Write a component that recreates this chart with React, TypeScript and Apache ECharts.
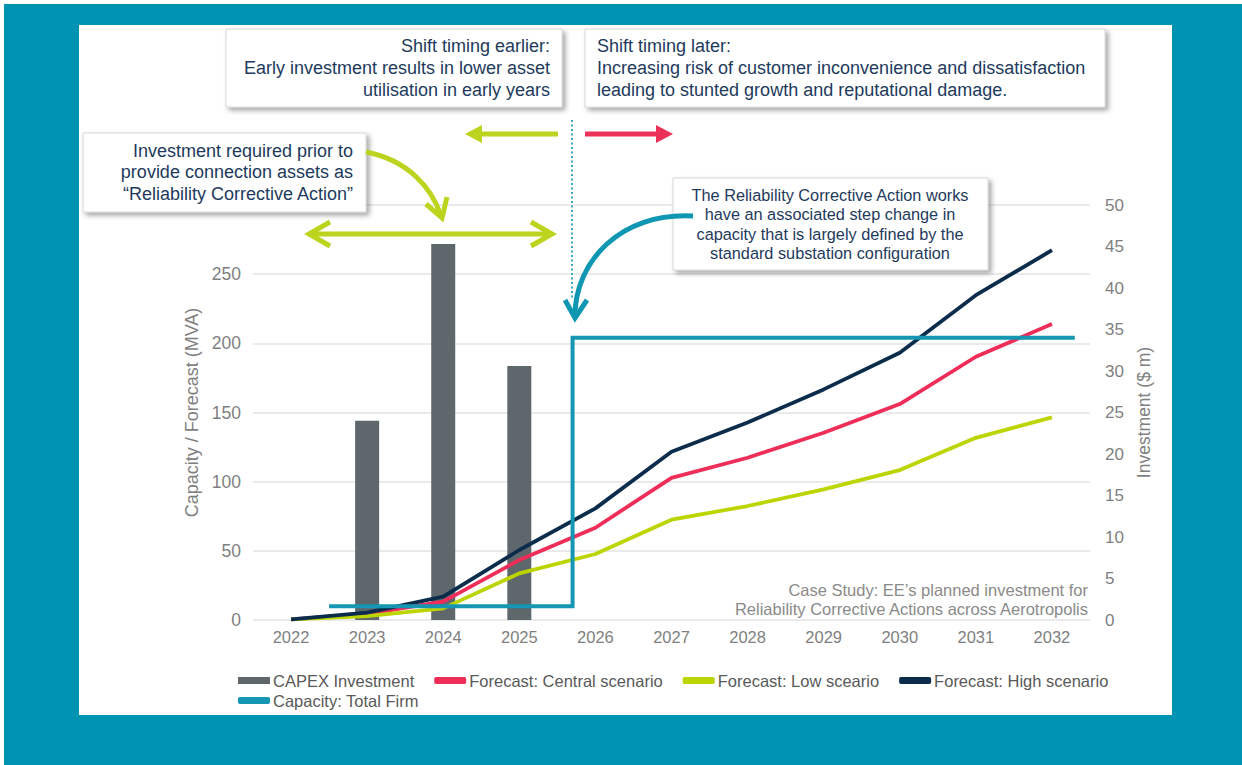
import React, { useEffect, useRef } from "react";
import * as echarts from "echarts";

const categories = ["2022", "2023", "2024", "2025", "2026", "2027", "2028", "2029", "2030", "2031", "2032"];
const capexInvestment = [null, 24.0, 45.3, 30.6, null, null, null, null, null, null, null];
const centralScenario = [0.5, 4.5, 13.3, 43.4, 66.7, 102.8, 117.3, 135.4, 156.1, 190.3, 213.9];
const lowScenario = [0.5, 2.8, 8.4, 33.7, 47.7, 72.5, 82.4, 94.4, 108.4, 131.7, 146.5];
const highScenario = [0.5, 5.3, 16.9, 50.6, 80.7, 121.6, 142.8, 166.7, 193.2, 234.8, 267.3];
// capacity step line, x in category-index units (2022 = 0)
const capacityX = [0.5, 3.7, 3.7, 10.3];
const capacityY = [10, 10, 204, 204];

const leftTicks = { min: 0, max: 300, interval: 50 };
const rightTicks = { min: 0, max: 50, interval: 5 };

const FONT = 'Arial, "Liberation Sans", Helvetica, sans-serif';
const TEAL_BG = "#0093B2";
const NAVY_TEXT = "#1E3A5C";
const GREEN = "#BDD41E";
const RED = "#EC3058";
const TEAL = "#0F96B2";

const COLORS = {
  capex: "#5E676C",
  central: "#EE2D59",
  low: "#BCD400",
  high: "#0C2C4C",
  capacity: "#1596B3",
};

function box(x: number, y: number, w: number, h: number) {
  return {
    type: "rect",
    z: 50,
    shape: { x, y, width: w, height: h },
    style: {
      fill: "#ffffff",
      stroke: "#d6d6d6",
      lineWidth: 1,
      shadowBlur: 5,
      shadowOffsetX: 3,
      shadowOffsetY: 3,
      shadowColor: "rgba(0,0,0,0.35)",
    },
  };
}

function label(text: string, x: number, y: number, align: string, lh: number, size: number) {
  return {
    type: "text",
    z: 51,
    style: {
      text,
      x,
      y,
      textAlign: align,
      textVerticalAlign: "middle",
      fill: NAVY_TEXT,
      font: `${size}px ${FONT}`,
      lineHeight: lh,
    },
  };
}

function line(x1: number, y1: number, x2: number, y2: number, color: string, w: number, extra: any = {}) {
  return {
    type: "line",
    z: 52,
    shape: { x1, y1, x2, y2 },
    style: { stroke: color, lineWidth: w, lineCap: "butt", ...extra },
  };
}

function poly(points: number[][], color: string, w: number) {
  return {
    type: "polyline",
    z: 52,
    shape: { points },
    style: { stroke: color, lineWidth: w, fill: null, lineJoin: "miter", lineCap: "butt" },
  };
}

function tri(points: number[][], color: string) {
  return {
    type: "polygon",
    z: 52,
    shape: { points },
    style: { fill: color },
  };
}

export default function App() {
  const ref = useRef<HTMLDivElement>(null);

  useEffect(() => {
    if (!ref.current) return;
    const chart = echarts.init(ref.current, null, { renderer: "svg" });

    const lineSeries = (name: string, data: number[], color: string) => ({
      name,
      type: "line",
      xAxisIndex: 0,
      yAxisIndex: 0,
      data,
      symbol: "none",
      lineStyle: { color, width: 3.8 },
      itemStyle: { color },
      z: 3,
    });

    const legendText = { color: "#595959", fontSize: 16.5, fontFamily: FONT, padding: [0, 0, 0, -2] };

    const option: any = {
      animation: false,
      backgroundColor: "#ffffff",
      textStyle: { fontFamily: FONT },
      grid: { left: 253, right: 152, top: 205, bottom: 145, containLabel: false },
      xAxis: [
        {
          type: "category",
          data: categories,
          boundaryGap: true,
          axisLine: { show: false },
          axisTick: { show: false },
          axisLabel: { color: "#7f7f7f", fontSize: 16.5, margin: 8, fontFamily: FONT },
          splitLine: { show: false },
        },
        {
          type: "value",
          min: -0.5,
          max: 10.5,
          show: false,
          splitLine: { show: false },
        },
      ],
      yAxis: [
        {
          type: "value",
          ...leftTicks,
          name: "Capacity / Forecast (MVA)",
          nameLocation: "middle",
          nameGap: 46,
          nameTextStyle: { color: "#7f7f7f", fontSize: 18, fontFamily: FONT },
          axisLine: { show: false },
          axisTick: { show: false },
          axisLabel: {
            color: "#7f7f7f",
            fontSize: 17.5,
            margin: 12,
            fontFamily: FONT,
            formatter: (v: number) => (v === 300 ? "" : String(v)),
          },
          splitLine: { show: true, lineStyle: { color: "#e3e3e3", width: 1.5 } },
        },
        {
          type: "value",
          ...rightTicks,
          position: "right",
          name: "Investment ($ m)",
          nameLocation: "middle",
          nameGap: 41,
          nameTextStyle: { color: "#7f7f7f", fontSize: 17.5, fontFamily: FONT },
          axisLine: { show: false },
          axisTick: { show: false },
          axisLabel: { color: "#7f7f7f", fontSize: 17, margin: 15, fontFamily: FONT },
          splitLine: { show: false },
        },
      ],
      legend: [
        {
          data: [
            { name: "CAPEX Investment", icon: "rect" },
            { name: "Forecast: Central scenario", icon: "roundRect" },
            { name: "Forecast: Low sceario", icon: "roundRect" },
            { name: "Forecast: High scenario", icon: "roundRect" },
          ],
          left: 233,
          top: 667,
          itemWidth: 32,
          itemHeight: 7,
          itemGap: 20,
          textStyle: legendText,
          selectedMode: false,
        },
        {
          data: [{ name: "Capacity: Total Firm", icon: "roundRect" }],
          left: 233,
          top: 687,
          itemWidth: 32,
          itemHeight: 7,
          textStyle: legendText,
          selectedMode: false,
        },
      ],
      series: [
        {
          name: "CAPEX Investment",
          type: "bar",
          xAxisIndex: 0,
          yAxisIndex: 1,
          data: capexInvestment,
          barWidth: 24,
          itemStyle: { color: COLORS.capex },
          z: 2,
        },
        lineSeries("Forecast: Central scenario", centralScenario, COLORS.central),
        lineSeries("Forecast: Low sceario", lowScenario, COLORS.low),
        lineSeries("Forecast: High scenario", highScenario, COLORS.high),
        {
          name: "Capacity: Total Firm",
          type: "line",
          xAxisIndex: 1,
          yAxisIndex: 0,
          data: capacityX.map((x, i) => [x, capacityY[i]]),
          symbol: "none",
          lineStyle: { color: COLORS.capacity, width: 4, join: "miter" },
          itemStyle: { color: COLORS.capacity },
          z: 4,
        },
      ],
      graphic: {
        elements: [
          { type: "rect", z: -20, shape: { x: 4, y: 4, width: 1238, height: 761 }, style: { fill: TEAL_BG } },
          { type: "rect", z: -19, shape: { x: 79, y: 25, width: 1093, height: 690 }, style: { fill: "#ffffff" } },
          // case study note
          {
            type: "text",
            z: 10,
            style: {
              text: "Case Study: EE\u2019s planned investment for\nReliability Corrective Actions across Aerotropolis",
              x: 1088,
              y: 599,
              textAlign: "right",
              textVerticalAlign: "middle",
              fill: "#8a8a8a",
              font: `16.5px ${FONT}`,
              lineHeight: 19,
            },
          },
          // boxes
          box(226, 29, 336, 78),
          label("Shift timing earlier:\nEarly investment results in lower asset\nutilisation in early years", 550, 68, "right", 22, 18),
          box(585, 29, 520, 78),
          label(
            "Shift timing later:\nIncreasing risk of customer inconvenience and dissatisfaction\nleading to stunted growth and reputational damage.",
            597,
            68,
            "left",
            22,
            18
          ),
          box(83, 133, 283, 79),
          label("Investment required prior to\nprovide connection assets as\n\u201cReliability Corrective Action\u201d", 353, 172, "right", 21.5, 18),
          box(673, 178, 315, 92),
          label(
            "The Reliability Corrective Action works\nhave an associated step change in\ncapacity that is largely defined by the\nstandard substation configuration",
            830,
            224,
            "center",
            19.5,
            16.3
          ),
          // dotted vertical timing line
          line(572, 120, 572, 300, "#3CA9CA", 2, { lineDash: [2, 2.5] }),
          // left green arrow
          line(558, 134, 478, 134, GREEN, 5),
          tri([[465, 134], [482, 125], [482, 143]], GREEN),
          // red arrow
          line(585, 134, 660, 134, RED, 5),
          tri([[673, 134], [656, 125], [656, 143]], RED),
          // double green arrow
          line(309, 234, 552, 234, GREEN, 5),
          poly([[330, 222], [309, 234], [330, 246]], GREEN, 5),
          poly([[531, 222], [552, 234], [531, 246]], GREEN, 5),
          // curved green arrow
          {
            type: "bezierCurve",
            z: 52,
            shape: { x1: 366, y1: 152, cpx1: 408, cpy1: 160, cpx2: 432, cpy2: 188, x2: 441, y2: 216 },
            style: { stroke: GREEN, lineWidth: 5, fill: null },
          },
          poly([[426, 204], [442, 218], [447, 197]], GREEN, 5),
          // curved teal arrow
          {
            type: "bezierCurve",
            z: 52,
            shape: { x1: 693, y1: 216, cpx1: 620, cpy1: 212, cpx2: 575, cpy2: 262, x2: 575, y2: 316 },
            style: { stroke: TEAL, lineWidth: 5, fill: null },
          },
          poly([[565, 300], [575, 318], [587, 300]], TEAL, 5),
        ],
      },
    };

    chart.setOption(option);
    return () => chart.dispose();
  }, []);

  return (
    <div
      ref={ref}
      style={{ position: "fixed", left: 0, top: 0, width: 1242, height: 765, background: "#fff" }}
    />
  );
}
